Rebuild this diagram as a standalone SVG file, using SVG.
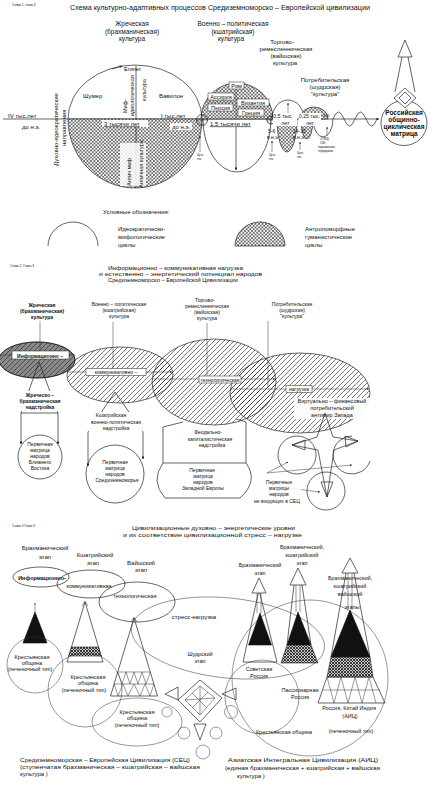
<svg xmlns="http://www.w3.org/2000/svg" width="437" height="796" viewBox="0 0 437 796">
<style>
text{font-family:"Liberation Sans","DejaVu Sans",sans-serif;fill:#111}
.c{text-anchor:middle}
.b{font-weight:bold}
.f3{font-size:3px}.f4{font-size:4px}.f5{font-size:5px}.f55{font-size:5.5px}.f6{font-size:6px}.f65{font-size:6.5px}.f7{font-size:7px}
.ln{fill:none;stroke:#222;stroke-width:0.7}
.th{fill:none;stroke:#333;stroke-width:0.5}
.box{fill:#fff;stroke:#222;stroke-width:0.5}
.wb{fill:#fff;stroke:none}
.xh{fill:url(#xh);stroke:#222;stroke-width:0.7}
.dh{fill:url(#dh);stroke:#222;stroke-width:0.7}
.ck{fill:url(#ck);stroke:#222;stroke-width:0.6}
.blk{fill:#111;stroke:#111;stroke-width:0.6}
.wt{fill:#fff;stroke:#222;stroke-width:0.7}
</style>
<defs>
<pattern id="xh" width="3.5" height="3.5" patternUnits="userSpaceOnUse"><rect width="3.5" height="3.5" fill="#fff"/><path d="M0,0 L3.5,3.5 M3.5,0 L0,3.5" stroke="#222" stroke-width="0.6"/></pattern>
<pattern id="dh" width="5" height="5" patternUnits="userSpaceOnUse"><path d="M0,5 L5,0 M-1,1 L1,-1 M4,6 L6,4" stroke="#222" stroke-width="0.6"/></pattern>
<pattern id="ck" width="3" height="3" patternUnits="userSpaceOnUse"><rect width="3" height="3" fill="#ccc"/><path d="M0,0 L3,3 M3,0 L0,3" stroke="#111" stroke-width="0.8"/></pattern>
<marker id="ar" viewBox="0 0 6 6" refX="5.5" refY="3" markerWidth="4" markerHeight="4" orient="auto"><path d="M0,0 L6,3 L0,6 z" fill="#222"/></marker>
<marker id="oa" viewBox="0 0 6 6" refX="5.5" refY="3" markerWidth="5" markerHeight="5" orient="auto"><path d="M0,0.5 L6,3 L0,5.5" fill="none" stroke="#222" stroke-width="0.8"/></marker>
</defs>
<rect width="437" height="796" fill="#fff"/>

<!-- ================= PANEL 1 ================= -->
<g id="p1-title">
<text x="12" y="6" class="f3">Схема 1, глава 3</text>
<text x="70" y="10" class="f7" textLength="300" lengthAdjust="spacingAndGlyphs">Схема культурно-адаптивных процессов  Средиземноморско – Европейской цивилизации</text>
</g>
<g id="p1-zhrech" class="c f65"><text x="132" y="26">Жреческая</text><text x="132" y="34">(брахманическая)</text><text x="132" y="41">культура</text></g>
<g id="p1-voen" class="c f65"><text x="233" y="26">Военно – политическая</text><text x="233" y="34">(кшатрийская)</text><text x="231" y="41">культура</text></g>
<g id="p1-torg" class="c f6"><text x="282" y="44">Торгово-</text><text x="286" y="51">ремесленническая</text><text x="286" y="58">(вайшская)</text><text x="285" y="65">культура</text></g>
<g id="p1-potr" class="c f6"><text x="325" y="82">Потребительская</text><text x="325" y="89">(шудрская)</text><text x="325" y="96">"культура"</text></g>

<g id="p1-connectors">
<line x1="3" y1="119" x2="379" y2="119" class="ln" marker-end="url(#ar)"/>
<path d="M333,119 q5.5,-14 11,0 t11,0 t11,0 t11,0" class="ln"/>
</g>

<g id="p1-big-cycle">
<path d="M68,119 A67,69 0 0 0 202,119 Z" class="xh"/>
<path d="M68,119 A67,54 0 0 1 202,119" class="ln"/>
<line x1="136" y1="66" x2="136" y2="188" class="ln"/>
<path d="M112,69 L122,66" class="ln" marker-end="url(#ar)"/>
<text x="124" y="71" class="f55">Египет</text>
<text x="83" y="98" class="f6">Шумер</text>
<text x="159" y="98" class="f6">Вавилон</text>
<text transform="translate(127,113) rotate(-90)" class="f55">Миф-</text>
<text transform="translate(134,116) rotate(-90)" class="f55">идеологическая</text>
<text transform="translate(146,101) rotate(-90)" class="f55">культура</text>
<rect x="120" y="143" width="26" height="43" class="wb" opacity="0.85"/>
<text transform="translate(131,186) rotate(-90)" class="f55">Антич миф</text>
<text transform="translate(143,188) rotate(-90)" class="f55">Античная культура</text>
<rect x="102" y="120" width="46" height="7" class="wb"/>
<text x="104" y="125.5" class="f6" text-decoration="underline">3 тысячи лет</text>
<text x="161" y="117.5" class="f6">I  тыс.лет</text>
<rect x="170" y="123" width="22" height="7" class="wb"/>
<text x="172" y="129" class="f6">до н.э.</text>
</g>

<g id="p1-left">
<text x="8" y="117.5" class="f6">IV  тыс.лет</text>
<text x="22" y="129" class="f6">до н.э.</text>
<text transform="translate(58,166) rotate(-90)" class="f6">Духовно-идеократические</text>
<text transform="translate(66,146) rotate(-90)" class="f6">направления</text>
</g>

<g id="p1-rome">
<path d="M201,119 A36,36 0 0 1 273,119 Z" class="xh"/>
<path d="M203,119 A34,53 0 0 0 271,119" class="ln"/>
<line x1="236" y1="126" x2="236" y2="170" class="ln" marker-end="url(#ar)"/>
<line x1="236" y1="90" x2="236" y2="119" class="th"/>
<rect x="229" y="82" width="15" height="7" class="box"/><text x="236.5" y="87.5" class="f55 c">Рим</text>
<rect x="208" y="93" width="26" height="7" class="box"/><text x="221" y="98.5" class="f55 c">Ассирия</text>
<line x1="207" y1="102" x2="235" y2="102" class="th" stroke-dasharray="1.5,1"/>
<rect x="237" y="99" width="32" height="7" class="box"/><text x="253" y="104.5" class="f55 c">Византия</text>
<rect x="208" y="104" width="25" height="7" class="box"/><text x="220.5" y="109.5" class="f55 c">Персия</text>
<rect x="238" y="109" width="26" height="7" class="box"/><text x="251" y="114.5" class="f55 c">Греция</text>
<rect x="209" y="120" width="57" height="7" class="wb"/>
<text x="210" y="125.5" class="f6" text-decoration="underline">1,5 тысячи лет</text>
<circle cx="202" cy="120" r="5.5" class="ln"/><path d="M196,120 H208 M202,114 V126" class="th"/>
<circle cx="271" cy="120" r="4" class="ln"/><path d="M266,120 H276 M271,115 V125" class="th"/>
</g>

<g id="p1-half">
<path d="M277,119 A10,33 0 0 0 297,119 Z" class="xh"/>
<path d="M272,119 A16,19 0 0 1 304,119" class="ln"/>
<line x1="288" y1="119" x2="288" y2="103" class="th" marker-end="url(#ar)"/>
<rect x="273" y="113" width="24" height="13" class="wb"/>
<text x="273" y="118" class="f55">0,5 тыс.</text>
<text x="281" y="125" class="f55">лет</text>
<text x="268" y="133" class="f5">5-6</text>
<text x="267" y="139" class="f5">в.н.э.</text>
</g>
<g id="p1-quarter">
<path d="M300,119 A14,12 0 0 1 328,119 Z" class="xh"/>
<path d="M301,119 A6,20 0 0 0 313,119 Z" class="xh"/>
<path d="M313,119 A10,18 0 0 0 333,119" class="ln"/>
<rect x="299" y="113" width="22" height="13" class="wb"/>
<text x="299" y="118" class="f5">0,25 тыс.</text>
<text x="306" y="125" class="f5">лет</text>
<text x="293" y="133" class="f5">14-15</text>
<text x="293" y="139" class="f5">в.н.э.</text>
<text x="323" y="117" class="f4">XXI</text>
</g>
<g id="p1-notes">
<line x1="200" y1="152" x2="200" y2="136" class="th" marker-end="url(#ar)"/>
<text x="197" y="156" class="f3">Чуть</text><text x="197" y="160" class="f3">тек</text>
<line x1="272" y1="152" x2="272" y2="141" class="th" marker-end="url(#ar)"/>
<text x="269" y="156" class="f3">Чуть</text><text x="269" y="160" class="f3">тек</text>
<line x1="300" y1="150" x2="300" y2="142" class="th" marker-end="url(#ar)"/>
<text x="297" y="154" class="f3">Чуть</text><text x="297" y="158" class="f3">тек</text>
<line x1="327" y1="136" x2="327" y2="127" class="th" marker-end="url(#ar)"/>
<text x="320" y="140" class="f3">СПИД,</text><text x="320" y="144" class="f3">СМ,</text><text x="318" y="148" class="f3">наркомания,</text><text x="318" y="152" class="f3">терроризм,</text>
</g>

<g id="p1-russia">
<ellipse cx="404" cy="123" rx="23" ry="22.5" class="ln" fill="#fff"/>
<g class="c f65 b"><text x="404" y="115">Российская</text><text x="404" y="122">общинно-</text><text x="404" y="129">циклическая</text><text x="404" y="136">матрица</text></g>
<path d="M405,40 L398,57 L412,57 Z" class="wt"/>
<path d="M402,57 L395,92 M408,57 L415,92" class="ln"/>
<path d="M405,88 L416,98 L405,108 L394,98 Z" class="wt"/>
<path d="M405,92 L411,98 L405,104 L399,98 Z" class="ln"/>
</g>

<g id="p1-legend">
<text x="103" y="214" class="f6">Условные обозначения:</text>
<path d="M48,246 A25,24 0 0 1 98,246" class="ln"/>
<text x="118" y="231" class="f6">Идеократически-</text><text x="118" y="239" class="f6">мифологические</text><text x="118" y="247" class="f6">циклы</text>
<path d="M235,246 A25,24 0 0 1 285,246 Z" class="xh"/>
<text x="305" y="231" class="f6">Антропоморфные</text><text x="305" y="239" class="f6">гуманистические</text><text x="305" y="247" class="f6">циклы</text>
</g>

<!-- ================= PANEL 2 ================= -->
<g id="p2-title">
<text x="10" y="267" class="f3">Схема 2, Глава 3</text>
<text x="108" y="270" class="f55" textLength="135" lengthAdjust="spacingAndGlyphs">Информационно – коммуникативная нагрузка</text>
<text x="99" y="276" class="f55" textLength="163" lengthAdjust="spacingAndGlyphs">и естественно – энергетический потенциал народов</text>
<text x="108" y="282" class="f55" textLength="130" lengthAdjust="spacingAndGlyphs">Средиземноморско – Европейской Цивилизации</text>
</g>
<g id="p2-zhrech" class="c f5 b"><text x="42" y="307">Жреческая</text><text x="42" y="313">(брахманическая)</text><text x="42" y="319">культура</text></g>
<g id="p2-voen" class="c f5"><text x="119" y="306">Военно – политическая</text><text x="119" y="312">(кшатрийская)</text><text x="119" y="318">культура</text></g>
<g id="p2-torg" class="c f5"><text x="205" y="302">Торгово-</text><text x="207" y="308">ремесленническая</text><text x="207" y="314">(вайшская)</text><text x="207" y="320">культура</text></g>
<g id="p2-potr" class="c f5"><text x="292" y="306">Потребительская</text><text x="292" y="312">(шудрская)</text><text x="292" y="318">"культура"</text></g>

<g id="p2-ellipses">
<ellipse cx="37" cy="360" rx="38" ry="18" fill="#8a8a8a" stroke="#222" stroke-width="0.7"/>
<ellipse cx="37" cy="360" rx="38" ry="18" class="dh"/>
<ellipse cx="120" cy="375" rx="53" ry="28" class="dh"/>
<ellipse cx="214" cy="382" rx="62" ry="43" class="dh"/>
<ellipse cx="300" cy="393" rx="70" ry="40" class="dh"/>
</g>

<g id="p2-lines">
<line x1="40" y1="321" x2="40" y2="352" class="th"/>
<line x1="0" y1="355" x2="75" y2="355" class="th" marker-end="url(#ar)"/>
<line x1="113" y1="322" x2="113" y2="372" class="th"/>
<line x1="68" y1="372" x2="172" y2="372" class="th" marker-end="url(#ar)"/>
<line x1="207" y1="323" x2="207" y2="379" class="th"/>
<line x1="153" y1="379" x2="275" y2="379" class="th" marker-end="url(#ar)"/>
<line x1="268" y1="321" x2="268" y2="388" class="th"/>
<line x1="231" y1="389" x2="369" y2="389" class="th" marker-end="url(#ar)"/>
</g>
<g id="p2-labels">
<rect x="12" y="351" width="57" height="8" class="box"/><text x="40" y="357.5" class="f5 c b">Информационно –</text>
<rect x="86" y="368.5" width="60" height="7" class="box"/><text x="116" y="374" class="f5 c">коммуникативно –</text>
<rect x="199" y="376" width="42" height="7" class="box"/><text x="220" y="381.5" class="f5 c">технологическая</text>
<rect x="286" y="385.5" width="26" height="7" class="box"/><text x="299" y="391" class="f5 c">нагрузка</text>
<rect x="294" y="398" width="76" height="21" class="wb" opacity="0.9"/>
<text x="332" y="403" class="f55 c">Виртуально – финансовый</text>
<text x="332" y="410" class="f55 c">потребительский</text>
<text x="332" y="417" class="f55 c">антимир Запада</text>
</g>

<g id="p2-near-east">
<path d="M39,362 L21,413 M39,362 L58,413 M21,413 L58,413" class="ln"/>
<rect x="18" y="391" width="45" height="20" class="wb"/>
<text x="40" y="397" class="f5 c b">Жреческо –</text>
<text x="40" y="403" class="f5 c b">брахманическая</text>
<text x="40" y="409" class="f5 c b">надстройка</text>
<line x1="21" y1="413" x2="21" y2="444" class="ln" marker-end="url(#ar)"/>
<line x1="58" y1="413" x2="58" y2="444" class="ln" marker-end="url(#ar)"/>
<circle cx="40" cy="457" r="22" class="ln" fill="#fff"/>
<g class="c f5"><text x="40" y="446">Первичная</text><text x="40" y="452">матрица</text><text x="40" y="458">народов</text><text x="40" y="464">Ближнего</text><text x="40" y="470">Востока</text></g>
</g>

<g id="p2-med">
<path d="M115,392 L88,432 M115,392 L143,432" class="ln"/>
<rect x="84" y="412" width="64" height="19" class="wb"/>
<text x="111" y="417" class="f5 c">Кшатрийская</text>
<text x="116" y="424" class="f5 c">военно-политическая</text>
<text x="116" y="430" class="f5 c">надстройка</text>
<line x1="88" y1="432" x2="88" y2="466" class="ln" marker-end="url(#ar)"/>
<line x1="143" y1="432" x2="143" y2="459" class="ln" marker-end="url(#ar)"/>
<circle cx="115" cy="474" r="29" class="ln" fill="#fff"/>
<g class="c f5"><text x="115" y="464">Первичная</text><text x="115" y="470">матрица</text><text x="115" y="476">народов</text><text x="117" y="482">Средиземноморья</text></g>
</g>

<g id="p2-west">
<path d="M183,422 L163,427 L163,463 L246,463 L246,422 L236,419" class="ln"/>
<text x="208" y="434" class="f5 c">Феодально-</text>
<text x="210" y="441" class="f5 c">капиталистическая</text>
<text x="212" y="447" class="f5 c">надстройка</text>
<path d="M163,463 Q150,481 165,498 L240,498 Q259,481 246,463" class="ln"/>
<g class="c f5"><text x="202" y="472">Первичная</text><text x="203" y="478">матрица</text><text x="203" y="484">народов</text><text x="203" y="490">Западной  Европы</text></g>
</g>

<g id="p2-others">
<circle cx="297" cy="455" r="19" class="ln"/>
<path d="M352,436 A19,19 0 1 0 370,461" class="ln"/>
<circle cx="326" cy="491" r="19" class="ln"/>
<path d="M325,413 L333,437 L358,441 L334,450 L327,497 L318,450 L292,445 L317,437 Z" class="ln"/>
<path d="M292,445 L305,440 L305,450 Z M358,441 L345,436 L346,447 Z M327,497 L321,482 L333,482 Z" class="ln"/>
<line x1="267" y1="473" x2="288" y2="462" class="th" marker-end="url(#ar)"/>
<line x1="267" y1="473" x2="352" y2="465" class="th" marker-end="url(#ar)"/>
<line x1="280" y1="487" x2="320" y2="492" class="th" marker-end="url(#ar)"/>
<rect x="259" y="479" width="42" height="25" class="wb" opacity="0.85"/>
<g class="c f5"><text x="279" y="484">Первичные</text><text x="279" y="490">матрицы</text><text x="279" y="496">народов</text><text x="277" y="503">не входящих в СЕЦ</text></g>
</g>

<!-- ================= PANEL 3 ================= -->
<g id="p3-title">
<text x="12" y="527" class="f3">Схема 3 Глава 3</text>
<text x="132" y="530" class="f6" textLength="163" lengthAdjust="spacingAndGlyphs">Цивилизационные  духовно – энергетические  уровни</text>
<text x="123" y="537" class="f6" textLength="179" lengthAdjust="spacingAndGlyphs">и  их  соответствие  цивилизационной  стресс – нагрузке</text>
</g>
<g id="p3-stages" class="c f6">
<text x="45" y="550">Брахманический</text><text x="45" y="559">этап</text>
<text x="95" y="557">Кшатрийский</text><text x="93" y="565">этап</text>
<text x="141" y="565">Вайшский</text><text x="141" y="572">этап</text>
</g>
<g id="p3-loads">
<ellipse cx="41" cy="577" rx="28" ry="10" class="ln"/>
<ellipse cx="91" cy="584" rx="34" ry="14" class="ln"/>
<ellipse cx="137" cy="602" rx="38" ry="20" class="ln"/>
<text x="42" y="580" class="f55 c b">Информационно-</text>
<text x="89" y="588" class="f55 c">коммуникативная</text>
<text x="135" y="598" class="f55 c">технологическая</text>
</g>
<g id="p3-stress">
<ellipse cx="228" cy="638" rx="97" ry="40" transform="rotate(6 228 638)" class="th"/>
<text x="194" y="619" class="f6 c">стресс-нагрузка</text>
</g>

<g id="p3-sec">
<path d="M35,612 L23,643 L47,643 Z" class="blk"/>
<line x1="35" y1="612" x2="35" y2="603" class="th" marker-end="url(#oa)"/>
<circle cx="35" cy="665" r="28" class="th"/>
<g class="c f55"><text x="32" y="659">Крестьянская</text><text x="32" y="665">община</text><text x="30" y="671">(печеночный тип)</text></g>

<path d="M85,602 L67,662 L103,662 Z" class="ln"/>
<path d="M71.5,647 L98.5,647 L101.2,656 L68.8,656 Z" class="ck"/>
<path d="M82,606 L85,601 L88,606" class="th"/>
<circle cx="85" cy="690" r="37" class="th"/>
<g class="c f55"><text x="88" y="679">Крестьянская</text><text x="88" y="685">община</text><text x="84" y="692">(печеночный тип)</text></g>

<path d="M134,618 L110.5,696 L157.5,696 Z" class="ln"/>
<path d="M131,622 L134,617 L137,622" class="th"/>
<path d="M117.7,672 L150.3,672 M114.1,684 L153.9,684" class="th"/>
<path d="M117.7,672 L122,684 L126,672 L130,684 L134,672 L138,684 L142,672 L146,684 L150.3,672" class="th"/>
<path d="M114.1,684 L118,696 L123,684 L128,696 L134,684 L140,696 L145,684 L150,696 L153.9,684" class="th"/>
<ellipse cx="137" cy="722" rx="45" ry="24" class="th"/>
<g class="c f55"><text x="137" y="714">Крестьянская</text><text x="137" y="720">община</text><text x="137" y="727">(печеночный тип)</text></g>
</g>

<g id="p3-shudra">
<text x="200" y="656" class="f55 c">Шудрский</text><text x="200" y="663" class="f55 c">этап</text>
<path d="M200,680 L222,698 L200,722 L178,700 Z" class="ln" fill="#fff"/>
<path d="M200,686 L215,698 L200,715 L185,700 Z" class="th"/>
<path d="M185,700 L215,698 M200,686 L200,715 M192,693 L207,708 M208,692 L192,708" class="th"/>
<path d="M165,694 L178,687 L178,700 Z" class="wt"/>
<path d="M200,740 L194,724 L206,724 Z" class="wt"/>
<path d="M222,694 L236,688 L236,700 Z" class="wt"/>
<circle cx="167" cy="712" r="5" class="th"/>
<circle cx="184" cy="733" r="6" class="th"/>
<circle cx="203" cy="752" r="7" class="th"/>
<circle cx="231" cy="712" r="6.5" class="th"/>
<circle cx="216" cy="733" r="6" class="th"/>
</g>

<g id="p3-aic">
<circle cx="310" cy="678" r="78" class="th"/>
<circle cx="262" cy="697" r="37" class="th"/>

<path d="M259,590 L243,662 L277,662 Z" class="ln" fill="#fff"/>
<path d="M260,613 L248.5,645 L271.5,645 Z" class="blk"/>
<path d="M257,593 V613 M261,593 V613" class="th"/>
<path d="M259,578 L252,593 L266,593 Z" class="wt"/>

<path d="M294,585 L287,645 M302,585 L311,645" class="ln"/>
<path d="M298,612 L287,645 L311,645 Z" class="blk"/>
<path d="M287,645 L311,645 L318,663 L281,663 Z" class="ck"/>
<path d="M296,585 V612 M300,585 V612" class="th"/>
<path d="M298,568 L290,585 L306,585 Z" class="wt"/>

<path d="M346,573 L331,657 M354,573 L370,657" class="ln"/>
<path d="M350,610 L331,657 L370,657 Z" class="blk"/>
<path d="M331,657 L370,657 L373,677 L327,677 Z" class="ck"/>
<path d="M327,677 L373,677 L385,703 L318,703 Z" class="ln" fill="#fff"/>
<path d="M327,677 L334,703 L341,677 L348,703 L355,677 L362,703 L369,677 L376,703 M322,690 L380,690" class="th"/>
<path d="M348,573 V610 M352,573 V610" class="th"/>
<path d="M350,558 L342,573 L358,573 Z" class="wt"/>

<g class="c f55">
<text x="260" y="567">Брахманический</text><text x="260" y="575">этап</text>
<text x="302" y="549">Брахманический,</text><text x="302" y="557">кшатрийский</text><text x="302" y="565">этап</text>
<text x="350" y="580">Брахманический,</text><text x="350" y="588">кшатрийский</text><text x="350" y="596">вайшский</text>
<text x="352" y="609">этапы</text>
<text x="259" y="671">Советская</text><text x="259" y="678">Россия</text>
<text x="300" y="692">Пассионарная</text><text x="300" y="699">Россия</text>
<text x="349" y="710">Россия, Китай  Индия</text><text x="350" y="718">(АИЦ)</text>
<text x="351" y="733">(печеночный тип)</text>
<text x="284" y="734">Крестьянская община</text>
</g>
</g>

<g id="p3-captions" class="f6">
<text x="20" y="762" textLength="170" lengthAdjust="spacingAndGlyphs">Средиземноморская – Европейская Цивилизация   (СЕЦ)</text>
<text x="20" y="769" textLength="180" lengthAdjust="spacingAndGlyphs">(ступенчатая  брахманическая – кшатрийская – вайшская</text>
<text x="20" y="776">культура )</text>
<text x="228" y="762" textLength="150" lengthAdjust="spacingAndGlyphs">Азиатская  Интегральная  Цивилизация (АИЦ)</text>
<text x="225" y="770" textLength="155" lengthAdjust="spacingAndGlyphs">(единая брахманическая + кшатрийская + вайшская</text>
<text x="237" y="778">культура )</text>
</g>
</svg>
